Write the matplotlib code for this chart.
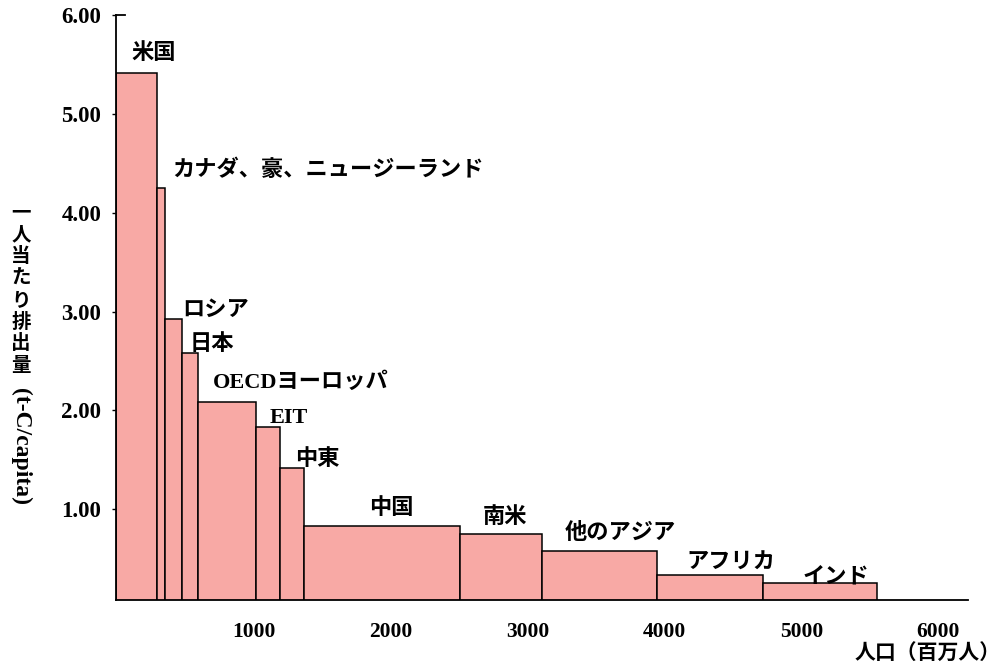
import matplotlib
matplotlib.use("Agg")
import matplotlib.pyplot as plt

# regions, population (millions) and per-capita emissions (t-C/capita)
regions = ["米国", "カナダ、豪、ニュージーランド", "ロシア", "日本", "OECDヨーロッパ", "EIT",
           "中東", "中国", "南米", "他のアジア", "アフリカ", "インド"]
population = [296, 60, 120, 121, 419, 177, 178, 1138, 597, 839, 772, 836]
per_capita = [5.42, 4.25, 2.92, 2.58, 2.08, 1.83, 1.42, 0.83, 0.75, 0.58, 0.33, 0.25]

x_ticks = [1000, 2000, 3000, 4000, 5000, 6000]
y_ticks = [1.0, 2.0, 3.0, 4.0, 5.0, 6.0]

# label anchors (left edge, vertical centre) in data units
label_x = [106, 405, 478, 536, 704, 1120, 1303, 1843, 2675, 3274, 4164, 5011]
label_y = [5.61, 4.43, 3.01, 2.67, 2.28, 1.92, 1.50, 1.01, 0.91, 0.75, 0.45, 0.31]

jp = ["Liberation Serif", "Noto Sans CJK JP"]

fig = plt.figure(figsize=(10.04, 6.64), dpi=100)
ax = fig.add_axes([0.116, 0.0964, 0.848, 0.8806])

left = 0
for w, h in zip(population, per_capita):
    ax.bar(left, h, width=w, align="edge", color="#F8A9A5",
           edgecolor="black", linewidth=1.1)
    left += w

for name, lx, ly in zip(regions, label_x, label_y):
    ax.text(lx, ly, name, ha="left", va="center", fontsize=16,
            fontweight="bold", family=jp)

ax.set_xlim(0, 6215)
ax.set_ylim(0.08, 6.0)
ax.set_xticks(x_ticks)
ax.set_xticklabels([str(t) for t in x_ticks], fontsize=15.5, fontweight="bold",
                   family="Liberation Serif")
ax.set_yticks(y_ticks)
ax.set_yticklabels([f"{t:.2f}" for t in y_ticks], fontsize=16.5, fontweight="bold",
                   family="Liberation Serif")
ax.tick_params(axis="x", length=0, pad=16)
ax.tick_params(axis="y", length=3, width=1, pad=8, direction="out")

for s in ["top", "right"]:
    ax.spines[s].set_visible(False)
for s in ["left", "bottom"]:
    ax.spines[s].set_linewidth(1.3)
ax.plot([0, 0.0105], [1, 1], color="black", lw=1.3, transform=ax.transAxes,
        clip_on=False)

# vertical y-axis title: upright kanji stacked, unit rotated
ylab = "一人当たり排出量"
for i, ch in enumerate(ylab):
    fig.text(0.021, 1 - (213 + i * 21.8) / 664, ch, ha="center", va="center",
             fontsize=14, fontweight="bold", family="Noto Sans CJK JP")
fig.text(0.021, 1 - 446 / 664, "(t-C/capita)", ha="center", va="center",
         rotation=270, fontsize=17, fontweight="bold", family="Liberation Serif")

fig.text(0.997, 1 - 653 / 664, "人口（百万人）", ha="right", va="center",
         fontsize=15, fontweight="bold", family="Noto Sans CJK JP")

fig.savefig("out.png", dpi=100, facecolor="white")
